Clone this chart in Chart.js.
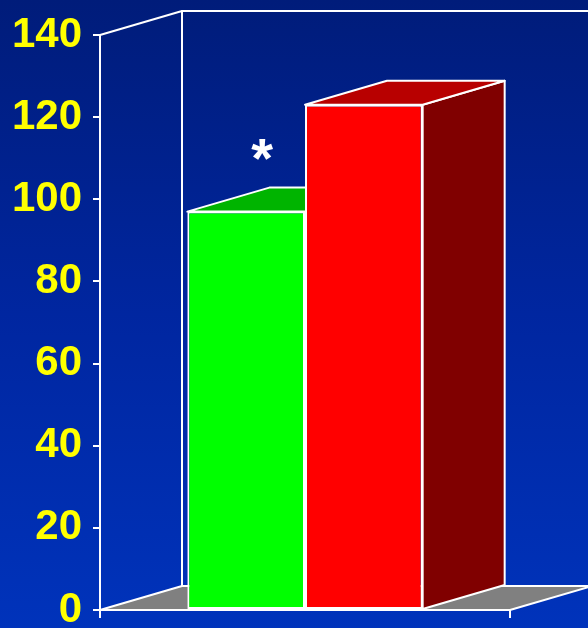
<!DOCTYPE html>
<html>
<head>
<meta charset="utf-8">
<title>Bar chart</title>
<script src="https://cdn.jsdelivr.net/npm/chart.js@4/dist/chart.umd.min.js"></script>
<style>
  html, body { margin: 0; padding: 0; background: #0028a0; }
  #chart {
    display: block;
    background: linear-gradient(to bottom, #001c7a 0%, #0026a0 50%, #0033bb 100%);
  }
</style>
</head>
<body>
<canvas id="chart" width="588" height="628"></canvas>
<script>
// values
const categories = [''];
const greenValues = [97];
const redValues = [123];
const yTicks = [0, 20, 40, 60, 80, 100, 120, 140];

const frontColors = ['#00ff00', '#ff0000'];
const topColors = ['#00b400', '#b80000'];
const sideColors = ['#008000', '#800000'];

// depth of the fake 3D box
const DX = 82;
const DY = -24;

function poly(ctx, pts, fill) {
    ctx.beginPath();
    ctx.moveTo(pts[0][0], pts[0][1]);
    for (let i = 1; i < pts.length; i++) ctx.lineTo(pts[i][0], pts[i][1]);
    ctx.closePath();
    if (fill) {
        ctx.fillStyle = fill;
        ctx.fill();
    }
    ctx.stroke();
}

const box3d = {
    id: 'box3d',
    beforeDatasetsDraw(chart) {
        const ctx = chart.ctx;
        const a = chart.chartArea;
        ctx.save();
        ctx.strokeStyle = '#ffffff';
        ctx.lineWidth = 2;
        ctx.lineJoin = 'round';

        // floor
        poly(ctx, [
            [a.left, a.bottom], [a.right, a.bottom],
            [a.right + DX, a.bottom + DY], [a.left + DX, a.bottom + DY]
        ], '#808080');

        // back wall and left wall outline
        ctx.beginPath();
        ctx.moveTo(a.left + DX, a.bottom + DY);
        ctx.lineTo(a.left + DX, a.top + DY);
        ctx.lineTo(a.right + DX + 10, a.top + DY);
        ctx.moveTo(a.left, a.top);
        ctx.lineTo(a.left + DX, a.top + DY);
        ctx.stroke();

        // top and side faces of each bar, front faces come from the library
        chart.data.datasets.forEach((ds, i) => {
            const meta = chart.getDatasetMeta(i);
            meta.data.forEach(bar => {
                const p = bar.getProps(['x', 'y', 'base', 'width'], true);
                const l = p.x - p.width / 2;
                const r = p.x + p.width / 2;
                poly(ctx, [
                    [r, p.base], [r + DX, p.base + DY],
                    [r + DX, p.y + DY], [r, p.y]
                ], sideColors[i]);
                poly(ctx, [
                    [l, p.y], [r, p.y],
                    [r + DX, p.y + DY], [l + DX, p.y + DY]
                ], topColors[i]);
            });
        });
        ctx.restore();
    },
    afterDatasetsDraw(chart) {
        // significance mark above the green bar
        const ctx = chart.ctx;
        const p = chart.getDatasetMeta(0).data[0].getProps(['x', 'y'], true);
        ctx.save();
        ctx.fillStyle = '#ffffff';
        ctx.font = 'bold 56px "Liberation Sans", Arial, sans-serif';
        ctx.textAlign = 'center';
        ctx.textBaseline = 'alphabetic';
        ctx.fillText('*', p.x + 16, p.y - 35);
        ctx.restore();
    }
};

new Chart(document.getElementById('chart').getContext('2d'), {
    type: 'bar',
    data: {
        labels: categories,
        datasets: [{
            data: greenValues,
            backgroundColor: frontColors[0],
            borderColor: '#ffffff',
            borderWidth: 2,
            borderSkipped: false
        }, {
            data: redValues,
            backgroundColor: frontColors[1],
            borderColor: '#ffffff',
            borderWidth: 2,
            borderSkipped: false
        }]
    },
    options: {
        responsive: false,
        animation: false,
        events: [],
        layout: {
            padding: { top: 35, right: 78, bottom: 0, left: 0 }
        },
        plugins: {
            legend: { display: false },
            tooltip: { enabled: false }
        },
        datasets: {
            bar: {
                barPercentage: 1,
                categoryPercentage: 0.574
            }
        },
        scales: {
            x: {
                offset: true,
                afterFit(scale) { scale.height = 18; },
                ticks: { display: false },
                grid: {
                    drawOnChartArea: false,
                    color: '#ffffff',
                    lineWidth: 2,
                    tickLength: 8
                },
                border: { color: '#ffffff', width: 2 }
            },
            y: {
                min: 0,
                max: 140,
                afterFit(scale) {
                    scale.width = 100;
                    scale.paddingTop = 0;
                    scale.paddingBottom = 0;
                },
                afterBuildTicks(scale) {
                    scale.ticks = yTicks.map(v => ({ value: v }));
                },
                ticks: {
                    color: '#ffff00',
                    padding: 11,
                    font: { family: '"Liberation Sans", Arial, sans-serif', size: 42, weight: 'bold', lineHeight: 1 }
                },
                grid: {
                    drawOnChartArea: false,
                    color: '#ffffff',
                    lineWidth: 2,
                    tickLength: 7
                },
                border: { color: '#ffffff', width: 2 }
            }
        }
    },
    plugins: [box3d]
});
</script>
</body>
</html>
